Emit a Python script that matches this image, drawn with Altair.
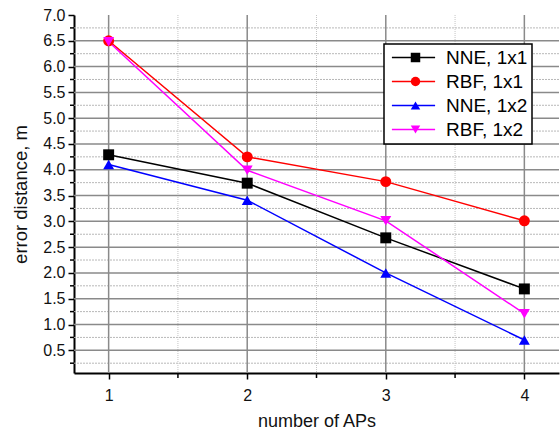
import altair as alt
import pandas as pd

# ---- data ----
aps = [1, 2, 3, 4]
series_names = ["NNE, 1x1", "RBF, 1x1", "NNE, 1x2", "RBF, 1x2"]
nne_1x1 = [4.29, 3.74, 2.68, 1.69]
rbf_1x1 = [6.50, 4.25, 3.77, 3.01]
nne_1x2 = [4.10, 3.41, 2.00, 0.70]
rbf_1x2 = [6.48, 3.99, 3.01, 1.21]
series_colors = ["#000000", "#ff0000", "#0000ff", "#ff00ff"]
series_shapes = ["square", "circle", "triangle-up", "triangle-down"]

y_major = [0.5, 1.0, 1.5, 2.0, 2.5, 3.0, 3.5, 4.0, 4.5, 5.0, 5.5, 6.0, 6.5, 7.0]
y_major_grid = [0.5, 1.0, 1.5, 2.0, 2.5, 3.0, 3.5, 4.0, 4.5, 5.0, 5.5, 6.0, 6.5]
y_minor = [0.25, 0.75, 1.25, 1.75, 2.25, 2.75, 3.25, 3.75, 4.25, 4.75, 5.25, 5.75, 6.25, 6.75]
x_major = [1, 2, 3, 4]
x_minor = [1.5, 2.5, 3.5]

all_vals = [nne_1x1, rbf_1x1, nne_1x2, rbf_1x2]
rows = []
for order, (name, vals) in enumerate(zip(series_names, all_vals)):
    for a, v in zip(aps, vals):
        rows.append({"aps": a, "err": v, "series": name, "order": order})
df = pd.DataFrame(rows)

W, H = 485, 358
FONT = "Liberation Sans"
xscale = alt.Scale(domain=[0.75, 4.25], nice=False, zero=False)
yscale = alt.Scale(domain=[0.06, 7.0], nice=False, zero=False)

# Legend A: box, labels and line symbols (from the line layer)
legend_lines = alt.Legend(
    title=None, orient="none", legendX=310, legendY=29,
    fillColor="white", strokeColor="black", padding=4,
    labelFont=FONT, labelFontSize=19, labelColor="black", labelLimit=200,
    symbolType="M-2.7,0H2.7", symbolSize=256, symbolStrokeWidth=1.5,
    symbolOffset=16, labelOffset=23, rowPadding=4, zindex=1,
)
# Legend B: only the markers, laid over legend A
legend_points = alt.Legend(
    title=None, orient="none", legendX=310, legendY=29, padding=4,
    labelFont=FONT, labelFontSize=19, labelExpr="' '", labelLimit=200,
    symbolSize=90, symbolStrokeWidth=0, symbolOffset=18, labelOffset=19,
    rowPadding=4, zindex=2,
)

x_axis = alt.Axis(values=x_major, format="d", grid=False, domainColor="black", domainWidth=2,
                  tickColor="black", tickWidth=1.5, tickSize=6, labelFont=FONT, labelFontSize=16,
                  labelColor="#111", labelPadding=8, title="number of APs", titleFont=FONT,
                  titleFontSize=18, titleFontWeight="normal", titleColor="#111", titlePadding=9)
y_axis = alt.Axis(values=y_major, format=".1f", grid=False, domainColor="black", domainWidth=2,
                  tickColor="black", tickWidth=1.5, tickSize=6, labelFont=FONT, labelFontSize=16,
                  labelColor="#111", labelPadding=3, title="error distance, m", titleFont=FONT,
                  titleFontSize=18.5, titleFontWeight="normal", titleColor="#111", titlePadding=12)

ymin_df = pd.DataFrame({"v": y_minor})
ymaj_df = pd.DataFrame({"v": y_major_grid})
xmin_df = pd.DataFrame({"v": x_minor})
xmaj_df = pd.DataFrame({"v": x_major})

grid_ymin = alt.Chart(ymin_df).mark_rule(color="#b8b8b8", strokeWidth=1, strokeDash=[2, 1]).encode(
    y=alt.Y("v:Q", scale=yscale, axis=y_axis), x=alt.value(0), x2=alt.value(W))
grid_xmin = alt.Chart(xmin_df).mark_rule(color="#c4c4c4", strokeWidth=1, strokeDash=[1, 1]).encode(
    x=alt.X("v:Q", scale=xscale, axis=x_axis), y=alt.value(0), y2=alt.value(H))
grid_ymaj = alt.Chart(ymaj_df).mark_rule(color="#8a8a8a", strokeWidth=1.5).encode(
    y=alt.Y("v:Q", scale=yscale, axis=y_axis), x=alt.value(0), x2=alt.value(W))
grid_xmaj = alt.Chart(xmaj_df).mark_rule(color="#8a8a8a", strokeWidth=1.5).encode(
    x=alt.X("v:Q", scale=xscale, axis=x_axis), y=alt.value(0), y2=alt.value(H))
tick_ymin = alt.Chart(ymin_df).mark_rule(color="black", strokeWidth=1.5).encode(
    y=alt.Y("v:Q", scale=yscale, axis=y_axis), x=alt.value(-4), x2=alt.value(0))
tick_xmin = alt.Chart(xmin_df).mark_rule(color="black", strokeWidth=1.5).encode(
    x=alt.X("v:Q", scale=xscale, axis=x_axis), y=alt.value(H), y2=alt.value(H + 5))

lines = alt.Chart(df).mark_line(strokeWidth=1.5).encode(
    x=alt.X("aps:Q", scale=xscale, axis=x_axis),
    y=alt.Y("err:Q", scale=yscale, axis=y_axis),
    color=alt.Color("series:N", scale=alt.Scale(domain=series_names, range=series_colors),
                    legend=legend_lines),
    detail="series:N", order="aps:Q")
points = alt.Chart(df).mark_point(filled=True, size=120, opacity=1).encode(
    x=alt.X("aps:Q", scale=xscale, axis=x_axis), y=alt.Y("err:Q", scale=yscale, axis=y_axis),
    color=alt.Color("series:N", scale=alt.Scale(domain=series_names, range=series_colors),
                    legend=legend_points),
    shape=alt.Shape("series:N", scale=alt.Scale(domain=series_names, range=series_shapes),
                    legend=legend_points),
    order="order:Q")

chart = alt.layer(grid_ymin, grid_xmin, grid_ymaj, grid_xmaj, tick_ymin, tick_xmin, lines, points).resolve_scale(
    color="independent", shape="independent"
).properties(
    width=W, height=H, autosize=alt.AutoSizeParams(type="none"),
    padding={"left": 74, "top": 15, "right": 1, "bottom": 61},
    background="white",
).configure_view(stroke=None).configure_legend(strokeWidth=1.5)

chart.save("out.html", embed_options={"renderer": "svg", "actions": False})
